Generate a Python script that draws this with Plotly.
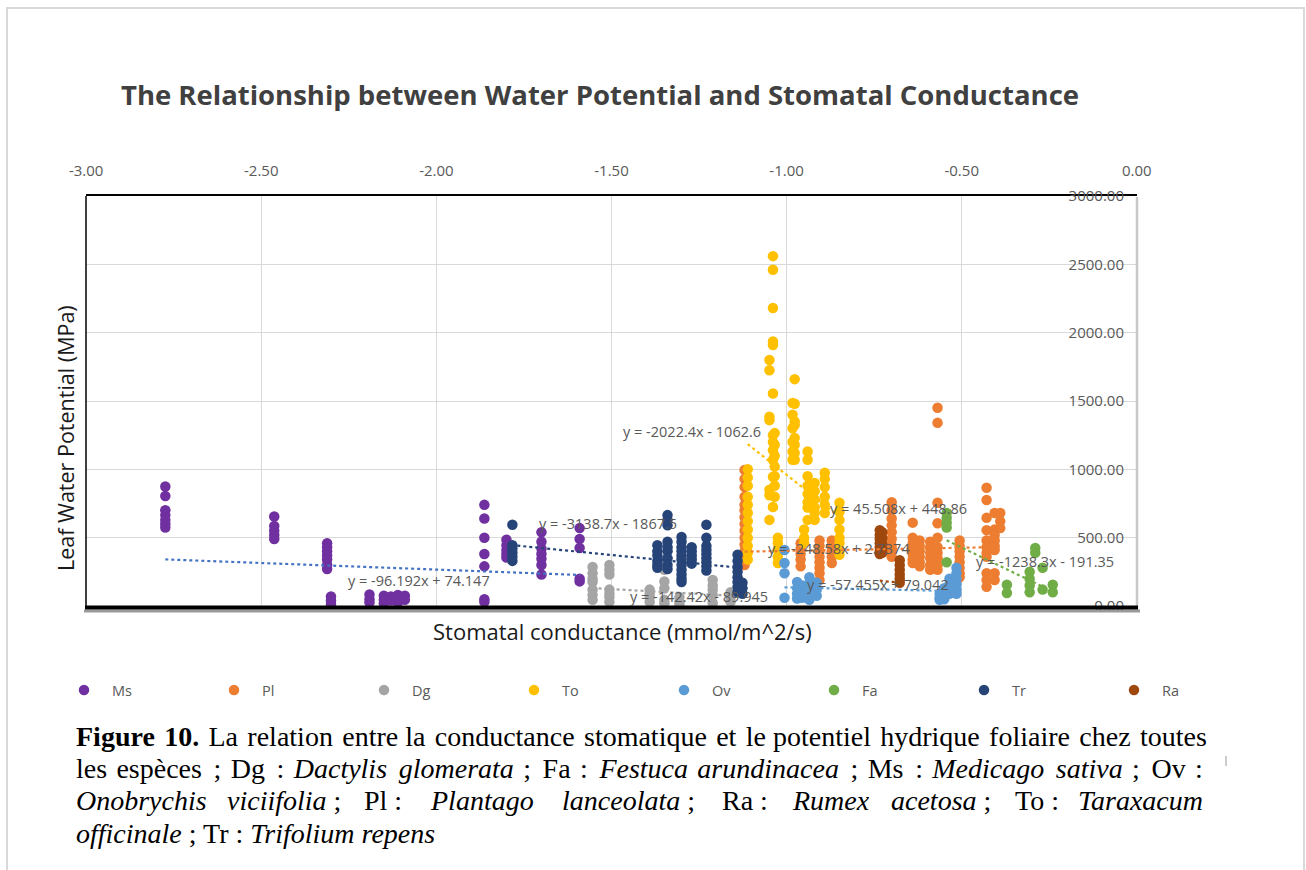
import plotly.graph_objects as go

# ---------------- data ----------------
species = ["Ms", "Pl", "Dg", "To", "Ov", "Fa", "Tr", "Ra"]
marker_colors = ["#7030A0", "#ED7D31", "#A5A5A5", "#FFC000", "#5B9BD5", "#70AD47", "#264478", "#9E480E"]
trend_colors = ["#4472C4", "#ED7D31", "#A5A5A5", "#FFC000", "#5B9BD5", "#70AD47", "#264478", "#9E480E"]

# each species: list of (x, [y values]) columns
ms_cols = [(-2.774, [875, 805, 700, 665, 630, 600, 575]),
           (-2.463, [655, 585, 550, 520, 490]),
           (-2.312, [460, 430, 400, 370, 340, 300, 270]),
           (-2.301, [70, 40, 15]),
           (-2.191, [85, 50, 25]),
           (-2.150, [75, 45, 20]),
           (-2.130, [70, 40]),
           (-2.110, [80, 50, 25]),
           (-2.090, [75, 45]),
           (-1.863, [740, 640, 500, 380, 290, 50, 30]),
           (-1.800, [485, 445, 410, 380, 355]),
           (-1.700, [540, 470, 420, 380, 345, 300, 230]),
           (-1.591, [570, 490, 425, 200, 180])]
pl_cols = [(-1.120, [995, 930, 870, 800, 740, 700, 650, 600, 550, 500, 450, 400, 360, 300]),
           (-0.960, [460, 420, 380, 340, 290]),
           (-0.906, [480, 440, 400, 360, 320, 280, 240, 190]),
           (-0.871, [480, 440, 400, 360, 315]),
           (-0.700, [760, 700, 640, 590, 540, 490, 440, 400, 360]),
           (-0.640, [610, 500, 460, 420, 380, 340, 315]),
           (-0.620, [480, 440, 400, 360, 320, 290]),
           (-0.590, [470, 430, 390, 350, 300, 265]),
           (-0.569, [1450, 1340, 755, 605, 500, 430, 390, 350, 300, 265]),
           (-0.506, [480, 440, 400, 360, 320, 280, 240, 210]),
           (-0.429, [865, 775, 645, 555, 480, 430, 390, 360, 240, 190, 140]),
           (-0.406, [680, 560, 520, 480, 440, 410, 240, 190]),
           (-0.390, [680, 620, 570])]
dg_cols = [(-1.554, [285, 240, 200, 175, 120, 80, 45]),
           (-1.506, [300, 265, 230, 120, 90, 65, 30]),
           (-1.391, [120, 90, 65, 30]),
           (-1.349, [335, 265, 180, 130, 45, 20]),
           (-1.306, [65, 30, 7]),
           (-1.211, [190, 150, 120, 80, 22]),
           (-1.160, [100, 60, 30])]
to_cols = [(-1.111, [1000, 940, 880, 800, 740, 680, 620, 560, 500, 440, 390, 340]),
           (-1.049, [1800, 1725, 1385, 1360, 850, 810, 630]),
           (-1.039, [2560, 2460, 2180, 1935, 1910, 1555, 1250, 1200, 1140, 1070, 945, 725]),
           (-1.034, [1265, 1180, 1100, 1020, 950, 880, 800]),
           (-1.025, [500, 460, 410, 360, 315]),
           (-0.983, [1485, 1400, 1300, 1200, 1130, 1070]),
           (-0.977, [1660, 1480, 1350, 1325, 1230, 1180, 1120, 1070]),
           (-0.950, [560, 500, 460]),
           (-0.940, [1130, 1070, 950, 880, 820, 760, 720, 630]),
           (-0.920, [900, 840, 780, 720, 680, 630]),
           (-0.891, [975, 930, 870, 800, 740, 680]),
           (-0.849, [755, 690, 630, 560, 500, 460, 410, 375])]
ov_cols = [(-1.006, [410, 315, 240, 60]),
           (-0.970, [175, 130, 90, 55]),
           (-0.955, [150, 100, 60]),
           (-0.935, [210, 165, 120, 80, 45]),
           (-0.914, [170, 120, 75]),
           (-0.563, [90, 60, 45]),
           (-0.550, [130, 100, 70, 50]),
           (-0.535, [200, 160, 120, 90]),
           (-0.515, [280, 240, 200, 160, 120, 90])]
fa_cols = [(-0.543, [680, 645, 610, 575, 320]),
           (-0.371, [155, 95]),
           (-0.306, [250, 200, 150, 100]),
           (-0.290, [425, 390]),
           (-0.269, [280, 120]),
           (-0.240, [155, 100])]
tr_cols = [(-1.783, [595, 445, 420, 390, 360, 330]),
           (-1.369, [445, 400, 370, 330, 300, 280]),
           (-1.340, [665, 630, 590, 470, 430, 400, 350, 300, 270]),
           (-1.300, [505, 470, 430, 400, 370, 340, 300, 265, 230, 200, 175]),
           (-1.271, [430, 400, 370, 340, 310]),
           (-1.229, [595, 500, 440, 410, 380, 350, 320, 290, 260]),
           (-1.140, [375, 330, 285, 250, 210, 175, 140, 100]),
           (-1.126, [170, 130, 90])]
ra_cols = [(-0.734, [555, 520, 490, 460, 430, 400, 380]),
           (-0.727, [540, 500, 460, 420, 390]),
           (-0.677, [335, 300, 265, 230, 200, 170])]
all_cols = [ms_cols, pl_cols, dg_cols, to_cols, ov_cols, fa_cols, tr_cols, ra_cols]

# trendlines: slope, intercept, x range (same order as species)
trend_slope = [-96.192, 45.508, -142.42, -2022.4, -57.455, -1238.3, -255.0, -248.58]
trend_icpt = [74.147, 448.86, -89.945, -1062.6, 79.042, -191.35, -9.4, 2.7374]
trend_xmin = [-2.774, -1.120, -1.554, -1.111, -1.006, -0.543, -1.786, -0.734]
trend_xmax = [-1.591, -0.390, -1.160, -0.849, -0.515, -0.240, -1.154, -0.677]

eq_texts = ["y = -96.192x + 74.147", "y = 45.508x + 448.86", "y = -142.42x - 89.945",
            "y = -2022.4x - 1062.6", "y = -57.455x + 79.042", "y = -1238.3x - 191.35",
            "y = -3138.7x - 1867.5", "y = -248.58x + 2.7374"]
eq_x = [-2.049, -0.680, -1.249, -1.271, -0.740, -0.263, -1.509, -0.849]
eq_y = [190, 717, 66, 1280, 161, 329, 607, 424]

x_tickvals = [-3.0, -2.5, -2.0, -1.5, -1.0, -0.5, 0.0]
x_ticktext = ["-3.00", "-2.50", "-2.00", "-1.50", "-1.00", "-0.50", "0.00"]
y_tickvals = [0, 500, 1000, 1500, 2000, 2500, 3000]
y_ticktext = ["0.00", "500.00", "1000.00", "1500.00", "2000.00", "2500.00", "3000.00"]

title_text = "The Relationship between Water Potential and Stomatal Conductance"
x_title = "Stomatal conductance (mmol/m^2/s)"
y_title = "Leaf Water Potential (MPa)"

# ---------------- layout geometry ----------------
W, H = 1306, 870
L, R, T, B = 86, 1137, 196, 606


def px(xp):
    return (xp - L) / (R - L)


def py(yp):
    return (B - yp) / (B - T)


def widen(s, fillers):
    # add small extra space after each normal space (text justification look)
    out, k = [], 0
    for ch in s:
        out.append(ch)
        if ch == " ":
            out.append(fillers[k % len(fillers)])
            k += 1
    return "".join(out)


fig = go.Figure()

for name, cols, col in zip(species, all_cols, marker_colors):
    xs, ys = [], []
    for xv, yl in cols:
        for yv in yl:
            xs.append(xv)
            ys.append(yv)
    fig.add_trace(go.Scatter(x=xs, y=ys, mode="markers", name=name,
                             marker=dict(color=col, size=10.5, line=dict(width=0))))

for i, name in enumerate(species):
    x0, x1 = trend_xmin[i], trend_xmax[i]
    fig.add_trace(go.Scatter(x=[x0, x1],
                             y=[trend_slope[i] * x0 + trend_icpt[i], trend_slope[i] * x1 + trend_icpt[i]],
                             mode="lines", showlegend=False, hoverinfo="skip",
                             line=dict(color=trend_colors[i], width=2.2, dash="dot")))

annotations = []
for t, xv, yv in zip(eq_texts, eq_x, eq_y):
    annotations.append(dict(x=xv, y=yv, xref="x", yref="y", text=t, showarrow=False,
                            xanchor="center", yanchor="middle",
                            font=dict(family="Open Sans", size=14.5, color="#595959")))

annotations.append(dict(x=px(622), y=py(631), xref="paper", yref="paper", text=x_title,
                        xanchor="center", yanchor="middle",
                        showarrow=False, font=dict(family="Open Sans", size=22, color="#1a1a1a")))
annotations.append(dict(x=px(65), y=py(438), xref="paper", yref="paper", text=y_title, textangle=-90,
                        xanchor="center", yanchor="middle",
                        showarrow=False, font=dict(family="Open Sans", size=21.5, color="#1a1a1a")))

# caption
cap_font = dict(family="Liberation Serif", size=28, color="#000000")
HAIR, SIXTH = "\u200a", "\u2006"
caption_pieces = [
    (widen("<b>Figure 10.</b> La relation entre la conductance stomatique et le potentiel hydrique foliaire chez toutes",
           [HAIR, HAIR, HAIR, HAIR, ""]), 74, 736, "left"),
    (widen("les espèces ; Dg : <i>Dactylis glomerata</i> ; Fa : <i>Festuca arundinacea</i> ; Ms : <i>Medicago sativa</i> ; Ov :",
           [HAIR, SIXTH]), 74, 768, "left"),
    ("<i>Onobrychis</i>", 74, 800, "left"),
    ("<i>viciifolia</i> ;", 225, 800, "left"),
    ("Pl :", 362, 800, "left"),
    ("<i>Plantago</i>", 428, 800, "left"),
    ("<i>lanceolata</i> ;", 560, 800, "left"),
    ("Ra :", 720, 800, "left"),
    ("<i>Rumex</i>", 790, 800, "left"),
    ("<i>acetosa</i> ;", 889, 800, "left"),
    ("To :", 1013, 800, "left"),
    ("<i>Taraxacum</i>", 1205, 800, "right"),
    ("<i>officinale</i> ; Tr : <i>Trifolium repens</i>", 74, 833, "left"),
]
for t, xp_, yp_, anc in caption_pieces:
    annotations.append(dict(x=px(xp_), y=py(yp_), xref="paper", yref="paper", text=t, showarrow=False,
                            xanchor=anc, yanchor="middle", font=cap_font))

shapes = [
    # outer light frame
    dict(type="rect", xref="paper", yref="paper", x0=px(7), x1=px(1304), y0=py(890), y1=py(8),
         line=dict(color="#d9d9d9", width=2), layer="below"),
    # plot box borders
    dict(type="line", xref="paper", yref="paper", x0=0, x1=0, y0=py(608), y1=1,
         line=dict(color="#000000", width=1.5), layer="above"),
    dict(type="line", xref="paper", yref="paper", x0=1, x1=1, y0=py(609), y1=py(197),
         line=dict(color="#c8c8c8", width=2.5), layer="above"),
    dict(type="line", xref="paper", yref="paper", x0=px(84), x1=px(1140), y0=py(611), y1=py(611),
         line=dict(color="#9a9a9a", width=3), layer="above"),
    dict(type="line", xref="paper", yref="paper", x0=px(85), x1=px(1138), y0=py(607.5), y1=py(607.5),
         line=dict(color="#000000", width=4), layer="above"),
    # small mark at right of caption
    dict(type="line", xref="paper", yref="paper", x0=px(1226), x1=px(1226), y0=py(756), y1=py(766),
         line=dict(color="#9a9a9a", width=1), layer="above"),
]

fig.update_layout(
    width=W, height=H,
    margin=dict(l=L, r=W - R, t=T, b=H - B),
    paper_bgcolor="white", plot_bgcolor="white",
    font=dict(family="Open Sans", color="#595959"),
    title=dict(text="<b>" + title_text + "</b>", x=600 / W, xref="container", xanchor="center",
               y=1 - 95 / H, yref="container", yanchor="middle",
               font=dict(family="Open Sans", size=27.5, color="#404040")),
    xaxis=dict(range=[-3.0005, 0.0005], side="top", tickvals=x_tickvals, ticktext=x_ticktext,
               showgrid=True, gridcolor="#d9d9d9", gridwidth=1, zeroline=False,
               showline=True, linecolor="#000000", linewidth=1.5, ticks="",
               ticklabeloverflow="allow",
               tickfont=dict(family="Open Sans", size=15, color="#595959"), ticklabelstandoff=12),
    yaxis=dict(range=[0, 3000], side="right", tickvals=y_tickvals, ticktext=y_ticktext,
               ticklabelposition="inside", ticklabeloverflow="allow",
               showgrid=True, gridcolor="#d9d9d9", gridwidth=1,
               zeroline=False, showline=False, ticks="",
               tickfont=dict(family="Open Sans", size=15, color="#595959"), ticklabelstandoff=10),
    legend=dict(orientation="h", x=px(56 + 1200), xanchor="right", y=py(690), yanchor="middle",
                entrywidth=89, entrywidthmode="pixels", itemwidth=46,
                font=dict(family="Open Sans", size=14.5, color="#595959"), bgcolor="rgba(0,0,0,0)"),
    annotations=annotations,
    shapes=shapes,
    showlegend=True,
)

fig.write_html("out.html", config={"displayModeBar": False},
               post_script="document.body.style.margin='0px';")
